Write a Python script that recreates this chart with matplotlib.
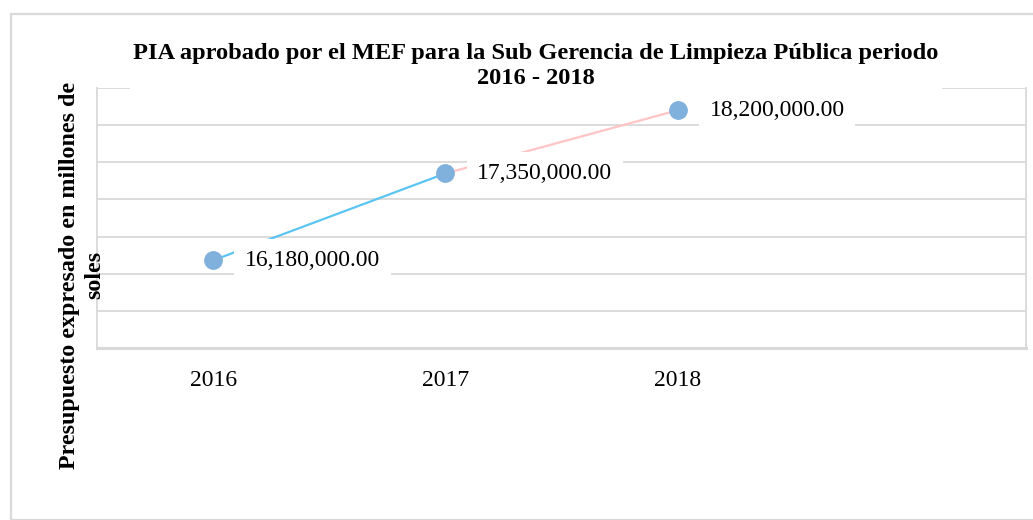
import numpy as np
import matplotlib.pyplot as plt
from matplotlib.patches import Rectangle

# data
years = ['2016', '2017', '2018', '']
budget = [16180000, 17350000, 18200000]  # [soles]
budget_labels = ['16,180,000.00', '17,350,000.00', '18,200,000.00']

seg_colors = ['#5BC5F2', '#FFC4C4']
marker_color = '#80B0DC'
grid_color = '#D9D9D9'

plt.rcParams['font.family'] = ['Liberation Serif', 'DejaVu Serif']

fig = plt.figure(figsize=(10.33, 5.20), dpi=100)
ax = fig.add_axes([97/1033, 1 - 348/520, (1026 - 97)/1033, (348 - 88)/520])

x = np.arange(len(budget))

# line segments, each with own colour
for i in range(len(budget) - 1):
    ax.plot(x[i:i+2], budget[i:i+2], color=seg_colors[i], lw=1.6, zorder=2)
ax.plot(x, budget, 'o', color=marker_color, ms=12.5, mec=marker_color, zorder=4)

# data labels
for xi, yi, lab in zip(x, budget, budget_labels):
    ax.annotate(lab, (xi, yi), xytext=(23, 0), textcoords='offset points',
                ha='left', va='center', fontsize=17, zorder=3,
                bbox=dict(boxstyle='square,pad=0.45', fc='white', ec='none'))

ax.set_xlim(-0.5, 3.5)
ax.set_ylim(15000000, 18500000)
ax.set_yticks(np.arange(15000000, 18500001, 500000))
ax.set_yticklabels([])
ax.set_xticks(np.arange(len(years)))
ax.set_xticklabels(years, fontsize=17)
ax.tick_params(axis='both', length=0)
ax.tick_params(axis='x', pad=16)
ax.grid(axis='y', color=grid_color, lw=1.3, zorder=0)
ax.set_axisbelow(True)

for s in ['left', 'right']:
    ax.spines[s].set_color(grid_color)
    ax.spines[s].set_linewidth(1.3)
ax.spines['bottom'].set_color(grid_color)
ax.spines['bottom'].set_linewidth(2.2)
ax.spines['top'].set_visible(False)

# title and axis label
fig.text(536/1033, 1 - 66/520,
         'PIA aprobado por el MEF para la Sub Gerencia de Limpieza Pública periodo\n2016 - 2018',
         ha='center', va='center', fontsize=17.6, fontweight='bold', linespacing=1.22,
         bbox=dict(boxstyle='square,pad=0.15', fc='white', ec='none'), zorder=5)
fig.text(82/1033, 1 - 275/520, 'Presupuesto expresado en millones de\nsoles',
         ha='center', va='center', rotation=90, multialignment='center',
         fontsize=17.3, fontweight='bold', linespacing=1.22)

# outer chart frame
fig.patches.append(Rectangle((11/1033, 0), 1.2, 1 - 14/520, transform=fig.transFigure,
                             fill=False, ec='#D9D9D9', lw=1.6, zorder=0))

fig.savefig('out.png', dpi=100)
